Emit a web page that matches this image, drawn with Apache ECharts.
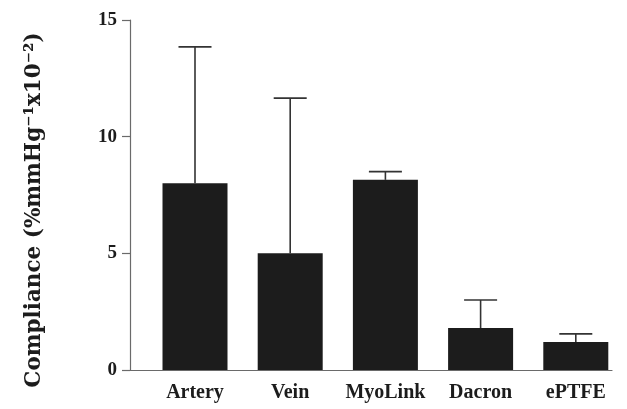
<!DOCTYPE html>
<html>
<head>
<meta charset="utf-8">
<script src="https://cdn.jsdelivr.net/npm/echarts@6/dist/echarts.min.js"></script>
<style>
  html, body { margin: 0; padding: 0; background: #fff; }
  #chart { width: 627px; height: 409px; }
</style>
</head>
<body>
<div id="chart"></div>
<script>
var categories = ['Artery', 'Vein', 'MyoLink', 'Dacron', 'ePTFE']
var means = [8.0, 5.0, 8.15, 1.8, 1.2]
var upperErr = [13.85, 11.65, 8.5, 3.0, 1.55]
var yTicks = [0, 5, 10, 15]

var serif = 'Liberation Serif'
var ink = '#1c1c1c'
var axisGray = '#6a6a6a'

var chart = echarts.init(document.getElementById('chart'))

var errData = categories.map(function (c, i) {
  return [i, means[i], upperErr[i]]
})

chart.setOption({
  backgroundColor: '#ffffff',
  animation: false,
  grid: [
    { left: 147.4, right: 3.6, top: 20, bottom: 39 },
    { left: 130, right: 15, top: 20, bottom: 39 }
  ],
  xAxis: [{
    gridIndex: 0,
    type: 'category',
    data: categories,
    axisLine: { show: false },
    axisTick: { show: false },
    axisLabel: {
      interval: 0,
      margin: 13,
      color: ink,
      fontFamily: serif,
      fontWeight: 'bold',
      fontSize: 20
    }
  }, {
    gridIndex: 1,
    type: 'value',
    min: 0,
    max: 1,
    axisLine: { show: true, lineStyle: { color: axisGray, width: 1.2 } },
    axisTick: { show: false },
    axisLabel: { show: false },
    splitLine: { show: false }
  }],
  yAxis: [{
    gridIndex: 0,
    type: 'value',
    min: 0,
    max: 15,
    show: false
  }, {
    gridIndex: 1,
    type: 'value',
    min: yTicks[0],
    max: yTicks[yTicks.length - 1],
    interval: 5,
    name: 'Compliance (%mmHg\u207B\u00B9x10\u207B\u00B2)',
    nameLocation: 'middle',
    nameGap: 85,
    nameTextStyle: {
      color: ink,
      fontFamily: 'DejaVu Serif',
      fontWeight: 'bold',
      fontSize: 21.5,
      padding: [0, 30, 0, 0]
    },
    axisLine: { show: true, lineStyle: { color: axisGray, width: 1.2 } },
    axisTick: { show: true, length: 8, lineStyle: { color: axisGray, width: 1.2 } },
    axisLabel: {
      margin: 13,
      color: ink,
      fontFamily: serif,
      fontWeight: 'bold',
      fontSize: 19
    },
    splitLine: { show: false }
  }],
  series: [{
    type: 'bar',
    xAxisIndex: 0,
    yAxisIndex: 0,
    data: means,
    barWidth: 65,
    itemStyle: { color: ink }
  }, {
    type: 'custom',
    xAxisIndex: 0,
    yAxisIndex: 0,
    data: errData,
    z: 1,
    renderItem: function (params, api) {
      var x = api.value(0)
      var base = api.coord([x, api.value(1)])
      var top = api.coord([x, api.value(2)])
      var half = 16.5
      var style = { stroke: '#333', lineWidth: 1.6 }
      return {
        type: 'group',
        children: [{
          type: 'line',
          shape: { x1: base[0], y1: base[1], x2: top[0], y2: top[1] },
          style: style
        }, {
          type: 'line',
          shape: { x1: top[0] - half, y1: top[1], x2: top[0] + half, y2: top[1] },
          style: style
        }]
      }
    }
  }]
})
</script>
</body>
</html>
